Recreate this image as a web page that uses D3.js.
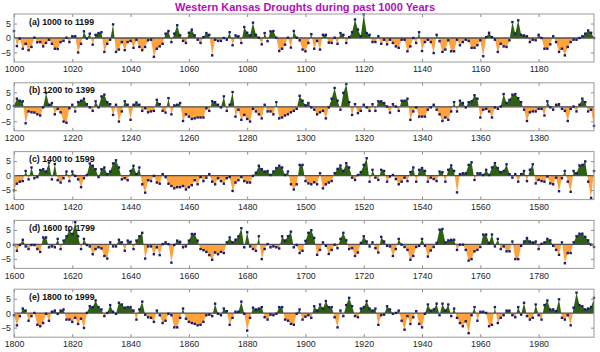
<!DOCTYPE html>
<html>
<head>
<meta charset="utf-8">
<script src="https://cdn.jsdelivr.net/npm/d3@7"></script>
<style>
  body { margin: 0; background: #fff; }
  svg { display: block; font-family: "Liberation Sans", Arial, sans-serif; }
</style>
</head>
<body>
<div id="chart"></div>
<script>
// panel start years and labels
var starts = [1000, 1200, 1400, 1600, 1800];
var panelLabels = ["(a) 1000 to 1199", "(b) 1200 to 1399", "(c) 1400 to 1599", "(d) 1600 to 1799", "(e) 1800 to 1999"];
var yTicks = [-5, 0, 5];

// drought index per year
var drought1000 = [
  2.4,-2.8,-0.2,-3.7,-2,-4.2,-3.1,0.1,-1.5,-1.4, -2.9,-1.7,-0.6,-2,-3.7,-3.8,-1.4,-1,0.1,-1.4,
  0.6,0.6,-5,-2,2.3,-0.2,1.5,-2.3,1.1,1.7, 2,-4.8,-2,-0.6,4.7,-4.8,-4,-1.4,-4.2,-1.4,
  -1,-3.4,-0.6,-3.1,-4.2,-3.1,-0.8,-0.6,-6.5,-3.7, -2.9,-2,1.5,2.4,-1.4,1.5,4.4,0.9,-1,-1.7,
  1.8,2.9,0.9,-0.6,-1.7,0.3,1.7,1.1,-6,-0.6, -1,-1,0,-0.6,2,-2.5,0.9,0.6,-1.7,3.8,
  1.8,0.9,5.3,1.1,0.1,-2.2,1.7,-1.1,2.3,2.4, 0.1,-4.5,-3.7,-2.3,0.1,-3.3,2.4,0.1,-0.8,-4,
  -4.6,-1.7,1.3,-3.7,-1,-4,1.1,1.1,-1.6,-1.7, 0.1,-2,1.7,1.1,-1.7,0.3,2,6.4,2.9,0.6,
  8.2,1.7,1.1,-1.4,-1.4,0.6,-2,-0.6,-2.2,-0.6, -1.7,-2.9,-3.4,-0.6,-0.6,-4.6,-2.9,0,-1.7,2,
  -4.5,-1.4,-0.6,-1.4,-5.2,1.1,-1.1,-4.8,-4,-0.8, -4.6,-4.6,-0.6,-2.5,-1.4,-0.6,-1,-3.4,-3.4,-2.5,
  -0.8,-6.3,0.3,1.8,0.3,-0.6,-4.8,-2,-2.9,-3.1, -0.8,5.5,1.5,6.1,1.1,0.9,0.6,-1.4,-0.6,-0.8,
  1.1,0,-3.7,-3.7,-2.2,0.6,-1.4,-4.8,-3.7,-6, -3.1,-1.4,-0.6,-0.6,0,0.6,1.5,2.6,1.8,0
];
var drought1200 = [
  0.3,2.8,2.1,1.9,-5.7,-1.6,-1.9,-2,-2.6,-3, -0.2,4.8,0.7,1.3,-2.6,-0.7,-1.9,-5.1,-5.5,-0.5,
  0.7,-1.6,1.6,2.1,2.8,0.9,-0.2,-1.4,1.9,-0.2, 3.6,4.2,1.6,0.9,-2.8,0.7,-5.1,-1.6,1.9,0.7,
  -4.5,0.7,1.5,0.7,-1.4,-0.5,-1.9,-1.6,-1.4,2.4, 0.9,-1.4,-2,3,-2.6,0.5,0.7,1.3,-4.9,-2.6,
  -3.4,-4.2,-4,-3.7,-3.7,-3.7,-0.5,-1.4,1.9,1.6, 0.7,-0.2,3.6,-1.4,0.7,5.1,-3.4,-1,-4.5,-2.8,
  -4.2,-5.1,-0.7,-1.6,-2.6,-4,0.7,-1.6,-1.6,-2.6, 1.6,-4,-3.7,-3,-2.6,-1.9,-1.4,-0.7,3.8,2.1,
  0.5,1.3,-0.2,-1,-2.6,-1.9,-1.4,-4,-0.2,2.8, 6.5,2.1,-1,4.8,7.9,1.6,-2.8,0.9,-2.2,-1.4,
  0.7,-0.2,-1.4,0.9,-1.4,1.9,1.9,1.3,0.1,-2, 0.9,0.1,-1.4,2.1,2.1,2.8,-4.5,-1.6,-0.2,-3.4,
  -3.4,-3.4,-1,-0.2,0.7,-1,-2.6,-4.9,-3.7,-4.5, -1.6,1.6,-1.6,2.1,1.3,-0.2,1.6,1.9,4,2.8,
  -3.7,-1,-0.7,-1.6,-3.7,-0.2,-0.7,0.1,4.4,1.3, 2.4,4.2,4.4,3,1.6,-1,-4.9,-1.9,-1.6,-1.6,
  -0.7,-0.7,-3,1.9,-0.2,-1,0.7,0.9,-0.7,-1.4, -4.9,-0.7,0.1,-1.6,0.7,2.8,1.6,-1.6,-1,-6.6
];
var drought1400 = [
  -5.1,-2.8,-2.1,-1.9,1.6,-1.3,2.8,-0.9,-0.5,1.9, 2.2,1.4,4.5,-1.3,4,-1.6,-2.4,-0.9,1.4,-1.9,
  1.4,-0.1,-1.3,-4,-0.9,0.2,4.2,3.4,2.2,-0.5, 2.2,2.8,0.5,1.4,4.2,5.3,2.8,-1.3,-0.9,-1.6,
  1.6,3.4,0.5,2.8,-3,-5.9,-1.6,-1.9,-0.1,-2.4, -2.8,0.5,-0.5,-2.8,-3.6,-4.4,-4,-4,-3.6,-4.8,
  -4,-3.3,-1.6,-3,-0.5,-1.9,-0.7,0.5,-2.1,-3, -0.9,-1.9,-2.8,-0.9,-0.5,-5.3,-2.4,-1.6,-0.5,-1.9,
  -2.4,-2.4,-0.1,1,3.4,2.2,1.4,1.6,0.2,1.4, 2.6,3.4,2.8,0.2,1.4,-3,-4.8,-3,3.7,3.7,
  -1.9,-2.7,-3,-2.3,-3,0.8,-4.4,-3,-2.4,-1.9, 0.8,2.3,3.5,1.6,4.3,2.8,-0.7,-1.5,0.2,1.2,
  3.7,6,-2.1,2,-0.7,-1.5,2,1.6,-2.1,-0.3, 0.2,-1.2,-3,-2.1,-0.7,-1.9,1.2,2.8,-2.1,2,
  2.6,1.6,-2.1,-0.7,-1.2,-1.9,1.4,1.2,-2.1,2, 3.5,1.6,-5.8,0.5,0.8,0.8,3.7,4.6,-1.5,0.8,
  0.8,0.2,2,0.2,2.8,4.3,2.6,1.2,1.6,3.9, 0.5,-0.7,0.5,-2.1,0.5,1.6,-1.9,2,3.9,-2.7,
  -1.5,-1.9,-2.1,-0.3,-2.7,-3,-0.7,-5.4,-0.9,1.6, -2.1,-5.6,1.6,0.8,3.5,3.7,4.9,-2.1,-7.7,1.6
];
var drought1600 = [
  -0.2,-2.2,-0.2,1.6,-0.7,-1.6,-0.2,-0.2,-1.6,-2.6, 2.4,2.4,-1,-0.7,-1,1.9,-1.6,1.3,2.8,4.8,
  3.6,7.7,2.8,-1.6,1.9,-0.2,-0.7,-3.4,-1.6,-1, -1.4,-4,-4.9,0.7,-0.7,-0.7,1.6,0.7,-2.2,1.3,
  0.9,-1.6,1.3,2.8,4,-4.9,-0.7,-0.7,-3.4,-1, -3.7,0.1,0.7,0.1,-6.3,-0.2,1.3,0.9,-1,-0.7,
  1.3,3.6,3.6,1.3,-1.6,-2,-2.6,-3.7,-5.3,-2.8, -3.4,-2.6,-3,0.7,2.4,0.7,1.6,2.8,5.6,-1,
  4.2,-0.7,-1.6,-2.2,2.8,-5.1,-1.6,0.1,-1,-0.7, -1,-1.4,2.8,1.3,2.8,4.4,-1,-0.2,-3,-2.2,
  1.2,4,4.9,2.2,-3.6,-1.9,0.7,-0.5,-3.3,-1.9, -0.1,-1.3,1.9,4,1.4,-1.6,-1.3,-4,-2.8,0.5,
  2.8,1,-0.7,0.7,-1.3,-2.8,2.6,1,-0.5,-0.7, -4,-1.6,1.9,-0.1,-0.9,-1.9,-5.3,-4,-0.9,-0.5,
  1.9,-0.5,-4.2,-2.1,-0.9,0.5,5.1,5.3,0.7,1.4, 1.6,1.6,-1.9,-0.1,-0.1,-1.9,-5.6,-5.1,-2.4,-1.9,
  -0.9,3.4,3.4,0.5,3.4,-0.7,1.9,-1.6,-0.7,-2.4, -2.4,1,-5.1,-5.1,-0.5,1,2.2,1,0.7,1,
  -1.6,0.2,0.7,1.9,1.4,-0.5,-1.9,-3.6,0.7,-6.5, -3,-3,0.7,2.8,3.7,3.7,2.6,1.4,-0.1,-0.9
];
var drought1800 = [
  -0.7,-4.2,-1,1.6,0.9,-2.6,-1,0.1,-4,-4.5, -3.4,-0.2,-2.6,0.5,0.9,-0.2,0.9,1.3,-2.2,-2.2,
  -3,-1.6,-3.7,-1.9,-5.1,0.1,2.4,2.1,4.4,2.1, 1.3,-1,0.1,2.8,0.5,-0.2,3.6,3,1.9,2.1,
  2.1,0.9,-2.2,1.3,4,-0.5,-1.4,-1.6,-3,0.9, -0.7,-3.4,-2.6,-0.2,-0.7,-4.9,-4.9,-1.6,1.6,-1.9,
  -3,-3.4,-3.7,-4.2,-4,-3,-0.7,-0.5,-1,3.3, -0.2,-0.7,1.6,0.7,-4,-1.6,0.5,0.5,4,-0.2,
  -6,-1.6,1.9,1.3,1.6,2.1,-1.4,-2.2,-0.5,-0.7, -0.2,2.1,2.1,-2.2,-2.6,-3.7,-4,-0.2,1.3,-2.2,
  -1.2,-0.7,-1.6,2.4,0.9,3,1.6,4.2,2.1,2.1, -1.4,-4.9,0.9,-1,2.8,5.3,2.4,-1,-1.4,1.6,
  2.1,4.2,1.6,0.9,1.6,-4,-0.7,-0.5,2.4,1.3, -0.2,0.1,0.9,-2.6,-5.7,-1,-3.7,-1.4,0.7,-3.7,
  -4.9,-0.2,3,0.9,1.3,3.3,-0.7,3.3,0.9,3, -1,1.6,-1.6,-3.4,-4.5,-2.8,-6.9,-0.7,2.1,-2.6,
  0.5,0.5,0.1,-4.5,-4,2.1,-3.4,-1.6,-0.7,0.9, 0.9,-0.7,-1.4,2.1,-0.5,3.6,-1,-2.2,-1.6,3,
  -0.7,-2.2,2.8,4.4,1.3,1.3,0.7,4.8,-1.6,-2.2, -0.7,-4.2,1.9,7.1,2.8,2.4,1.3,1.6,2.1,5.3
];
var series = [drought1000, drought1200, drought1400, drought1600, drought1800];

var width = 600;
var height = 352;
var left = 14, right = 594;
var panelTop = 14, panelH = 48, panelStep = 68.8;

var svg = d3.select("#chart")
  .append("svg")
    .attr("width", width)
    .attr("height", height);

// title
svg.append("text")
  .attr("x", 305)
  .attr("y", 10.5)
  .attr("text-anchor", "middle")
  .style("font-size", "11px")
  .style("font-weight", "bold")
  .style("fill", "#b010b8")
  .text("Western Kansas Droughts during past 1000 Years");

starts.forEach(function(start, i) {
  var top = panelTop + i * panelStep;
  var vals = series[i];
  var data = vals.map(function(v, k) { return {year: start + k, v: v}; });

  var x = d3.scaleLinear().domain([start, start + 199]).range([left, right]);
  var y = d3.scaleLinear().domain([-8.3, 8.3]).range([top + panelH, top]);

  var g = svg.append("g").attr("class", "panel");

  // clip areas above / below zero
  g.append("clipPath").attr("id", "up" + i)
    .append("rect").attr("x", left).attr("width", right - left)
    .attr("y", top).attr("height", y(0) - top);
  g.append("clipPath").attr("id", "dn" + i)
    .append("rect").attr("x", left).attr("width", right - left)
    .attr("y", y(0)).attr("height", top + panelH - y(0));

  var area = d3.area()
    .x(function(d) { return x(d.year); })
    .y0(y(0))
    .y1(function(d) { return y(d.v); });

  g.append("path").datum(data)
    .attr("d", area)
    .attr("clip-path", "url(#up" + i + ")")
    .style("fill", "#2f5f10");
  g.append("path").datum(data)
    .attr("d", area)
    .attr("clip-path", "url(#dn" + i + ")")
    .style("fill", "#ffa23c");

  // zero line
  g.append("line")
    .attr("x1", left).attr("x2", right)
    .attr("y1", y(0)).attr("y2", y(0))
    .style("stroke", "#505050")
    .style("stroke-width", 1.3);

  // points
  g.append("g").selectAll("rect")
    .data(data)
    .enter()
    .append("rect")
      .attr("x", function(d) { return x(d.year) - 1.2; })
      .attr("y", function(d) { return y(d.v) - 1.2; })
      .attr("width", 2.4)
      .attr("height", 2.4)
      .style("fill", "#1a1a70");

  var xt = d3.range(start, start + 200, 20);

  // axes, matlab style ticks pointing inwards
  g.append("g")
    .attr("transform", "translate(0," + (top + panelH) + ")")
    .call(d3.axisBottom(x).tickValues(xt).tickFormat(d3.format("d")).tickSize(-3).tickPadding(4));
  g.append("g")
    .attr("transform", "translate(0," + top + ")")
    .call(d3.axisTop(x).tickValues(xt).tickFormat("").tickSize(-3));
  g.append("g")
    .attr("transform", "translate(" + left + ",0)")
    .call(d3.axisLeft(y).tickValues(yTicks).tickSize(-3).tickPadding(3));
  g.append("g")
    .attr("transform", "translate(" + right + ",0)")
    .call(d3.axisRight(y).tickValues(yTicks).tickFormat("").tickSize(-3));

  g.selectAll(".domain").remove();
  g.selectAll(".tick line").style("stroke", "#8c8c8c");
  g.selectAll(".tick text")
    .style("font-family", "'Liberation Sans', Arial, sans-serif")
    .style("font-size", "8.8px")
    .style("fill", "#262626");

  // box
  g.append("rect")
    .attr("x", left).attr("y", top)
    .attr("width", right - left).attr("height", panelH)
    .style("fill", "none")
    .style("stroke", "#9a9a9a")
    .style("stroke-width", 1);

  // panel label
  g.append("text")
    .attr("x", 29)
    .attr("y", top + 10.5)
    .style("font-size", "8.8px")
    .style("font-weight", "bold")
    .style("fill", "#111")
    .text(panelLabels[i]);
});
</script>
</body>
</html>
